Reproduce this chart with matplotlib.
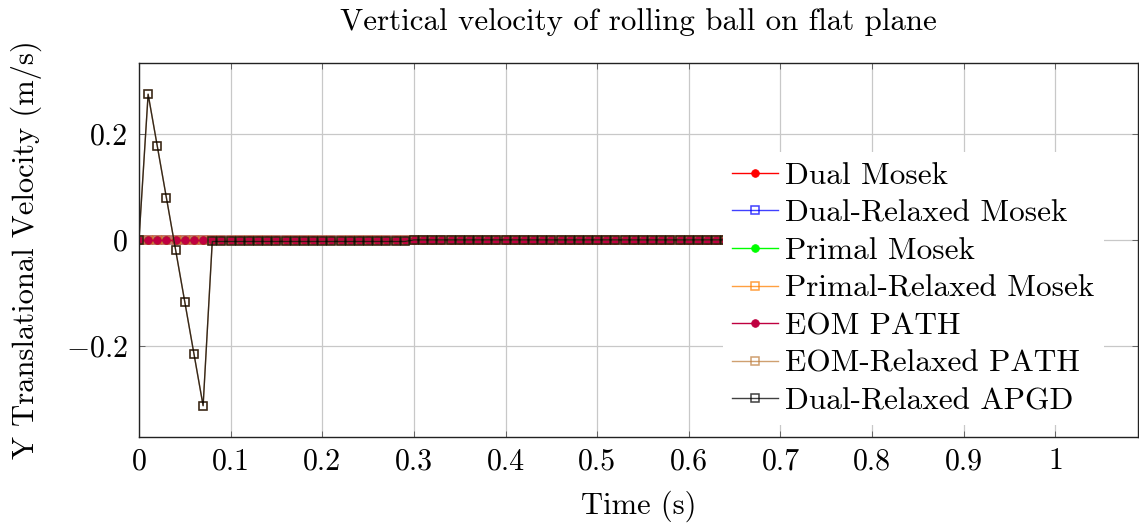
import matplotlib
matplotlib.use("Agg")
import matplotlib.pyplot as plt

plt.rcParams["font.family"] = ["cmr10", "DejaVu Serif"]
plt.rcParams["mathtext.fontset"] = "cm"
plt.rcParams["axes.formatter.use_mathtext"] = True
plt.rcParams["axes.unicode_minus"] = True

# time axis, 0 .. 1.0 s in 0.01 s steps
time = [round(0.01 * i, 2) for i in range(101)]

# solvers that stay at zero the whole time
flat = [0.0] * 101

# relaxed PATH / APGD show a spike at the start, then settle
spike_head = [0.0, 0.275, 0.177, 0.079, -0.019, -0.117, -0.215, -0.313]
small_neg = [-0.003] * 22          # 0.08 .. 0.29
tail = [0.0] * 71                  # 0.30 .. 1.00
relaxed = spike_head + small_neg + tail

series_names = ["Dual Mosek", "Dual-Relaxed Mosek", "Primal Mosek",
                "Primal-Relaxed Mosek", "EOM PATH", "EOM-Relaxed PATH",
                "Dual-Relaxed APGD"]
series_values = [flat, flat, flat, flat, flat, relaxed, relaxed]
series_colors = ["#FF0000", "#0000FF", "#00FF00", "#FF8000",
                 "#BF0040", "#BF8040", "#000000"]
series_markers = ["o", "s", "o", "s", "o", "s", "s"]

fig = plt.figure(figsize=(11.39, 5.29), dpi=100)
ax = fig.add_axes([0.122, 0.174, 0.877, 0.707])

for name, vals, col, mk in zip(series_names, series_values, series_colors, series_markers):
    if mk == "o":
        ax.plot(time, vals, color=col, lw=1.0, alpha=1.0, label=name,
                marker="o", ms=5.5, mfc=col, mec=col, mew=0.6)
    else:
        ax.plot(time, vals, color=col, lw=1.0, alpha=0.75, label=name,
                marker="s", ms=5.5, mfc="none", mec=col, mew=1.1)

ax.set_xlim(0, 1.09)
ax.set_ylim(-0.372, 0.334)
ax.set_xticks([0, 0.1, 0.2, 0.3, 0.4, 0.5, 0.6, 0.7, 0.8, 0.9, 1])
ax.set_xticklabels(["0", "0.1", "0.2", "0.3", "0.4", "0.5", "0.6", "0.7", "0.8", "0.9", "1"])
ax.set_yticks([-0.2, 0, 0.2])
ax.set_yticklabels([r"$-0.2$", "0", "0.2"])
ax.grid(True, color="#c8c8c8", lw=0.9)
ax.set_axisbelow(True)
ax.tick_params(direction="in", length=4, width=0.6, top=True, right=True,
               labelsize=21.5, pad=8, color="#555555")
for sp in ax.spines.values():
    sp.set_linewidth(1.0)
    sp.set_color("#222222")

ax.set_title("Vertical velocity of rolling ball on flat plane", fontsize=22.3, pad=24)
ax.set_xlabel("Time (s)", fontsize=22, labelpad=11)
ax.set_ylabel("Y Translational Velocity (m/s)", fontsize=22, labelpad=17)

leg = ax.legend(loc="center left", bbox_to_anchor=(0.569, 0.397), fontsize=22.5,
                frameon=True, fancybox=False, framealpha=1.0, edgecolor="none",
                facecolor="white", handlelength=1.45, handletextpad=0.25,
                labelspacing=0.31, borderpad=0.3)

fig.savefig("out.png", dpi=100)
